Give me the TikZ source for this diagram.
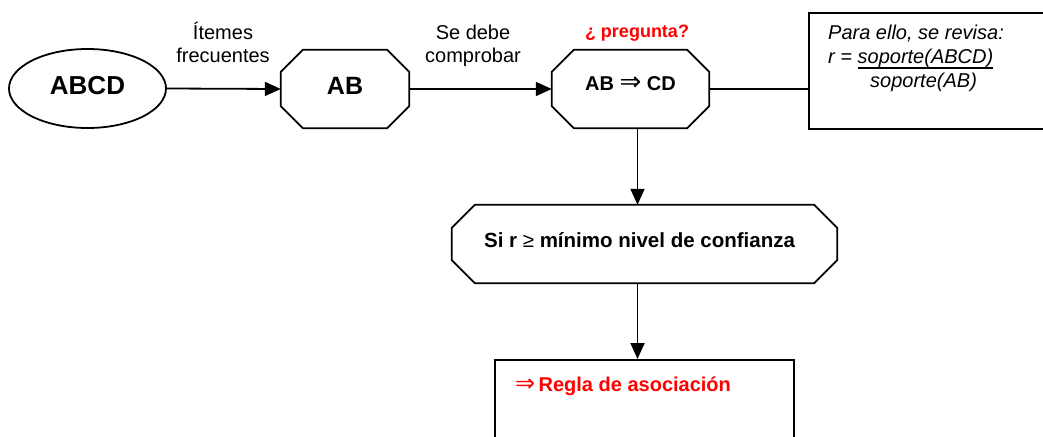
\documentclass[tikz,border=0pt]{standalone}
\usepackage{fontspec}
\setmainfont{Liberation Sans}
\newfontfamily\symfont{DejaVu Sans}
\usetikzlibrary{shapes.geometric,arrows.meta}
\newcommand\octpath[2]{%
  \draw[line] ([xshift=#2]#1.north west) -- ([xshift=-#2]#1.north east)
    -- ([yshift=-#2]#1.north east) -- ([yshift=#2]#1.south east)
    -- ([xshift=-#2]#1.south east) -- ([xshift=#2]#1.south west)
    -- ([yshift=#2]#1.south west) -- ([yshift=-#2]#1.north west) -- cycle;}
\newcommand\myul[1]{\setbox0=\hbox{#1}\rlap{\rule[-5.5pt]{\wd0}{1.5pt}}\box0}
\newcommand\darrow[1]{{\symfont\mdseries\fontsize{#1}{#1}\selectfont ⇒}}
\begin{document}
\begin{tikzpicture}[x=1pt,y=-1pt,
  line/.style={line width=1.8pt, line join=miter},
  arr/.style={line, -{Triangle[length=16pt,width=14pt]}},
  octbox/.style={rectangle, inner sep=0pt, minimum height=78pt},
  lbl/.style={inner sep=0pt, align=center, font=\fontsize{20}{23}\selectfont},
  redlbl/.style={inner sep=0pt, text=red},
  plainbox/.style={draw, line, rectangle, inner sep=0pt}]
\useasboundingbox (0,0) rectangle (1043,436);
\clip (0,0) rectangle (1043,436);

\node[ellipse, draw, line, minimum width=157pt, minimum height=79pt, inner sep=0pt,
      font=\fontsize{26}{30}\selectfont\bfseries, text height=18.6pt, text depth=7pt]
      (abcd) at (87.5,88.5) {ABCD};

\node[octbox, minimum width=128pt, font=\fontsize{25}{30}\selectfont\bfseries,
      text height=18pt, text depth=7pt] (ab) at (345,89) {AB};
\octpath{ab}{22pt}

\node[octbox, minimum width=157pt, font=\fontsize{20}{24}\selectfont\bfseries,
      text height=14.3pt, text depth=12pt] (imp) at (630.5,89) {AB \darrow{26} CD};
\octpath{imp}{22pt}

\node[octbox, minimum width=385pt, font=\fontsize{20.5}{24}\selectfont\bfseries,
      text height=14.7pt, text depth=8pt] (si) at (644.5,244) {Si r {\mdseries ≥} mínimo nivel de confianza\hspace*{10pt}};
\octpath{si}{23pt}

\node[plainbox, anchor=north west, minimum width=260pt, minimum height=116pt] (rev) at (808,12) {};
\node[anchor=north west, inner sep=0pt, align=left, font=\fontsize{20}{24}\selectfont\itshape]
      (revtxt) at (828,24.5) {Para ello, se revisa:\\r = \myul{soporte(ABCD)}\\\hspace*{42pt}soporte(AB)};

\node[plainbox, anchor=north, minimum width=299pt, minimum height=110pt] (rule) at (644.5,359) {};
\node[redlbl, anchor=base west, font=\fontsize{20}{24}\selectfont\bfseries]
      (ruletxt) at (515,391.5) {\darrow{24}\,Regla de asociación};

\node[lbl] (l1) at (223,42.5) {Ítemes\\frecuentes};
\node[lbl] (l2) at (473,46) {Se debe\\comprobar};
\node[redlbl, anchor=base, font=\fontsize{18}{22}\selectfont\bfseries] (q) at (637,37.5) {¿ pregunta?};

\draw[arr] (abcd.east) -- (ab.west);
\draw[arr] (ab.east) -- (imp.west);
\draw[line] (imp.east) -- (imp.east -| rev.west);
\draw[arr] ([xshift=7pt]imp.south) -- ([xshift=7pt]imp.south |- si.north);
\draw[arr] ([xshift=-7pt]si.south) -- ([xshift=-7pt]si.south |- rule.north);
\end{tikzpicture}
\end{document}
